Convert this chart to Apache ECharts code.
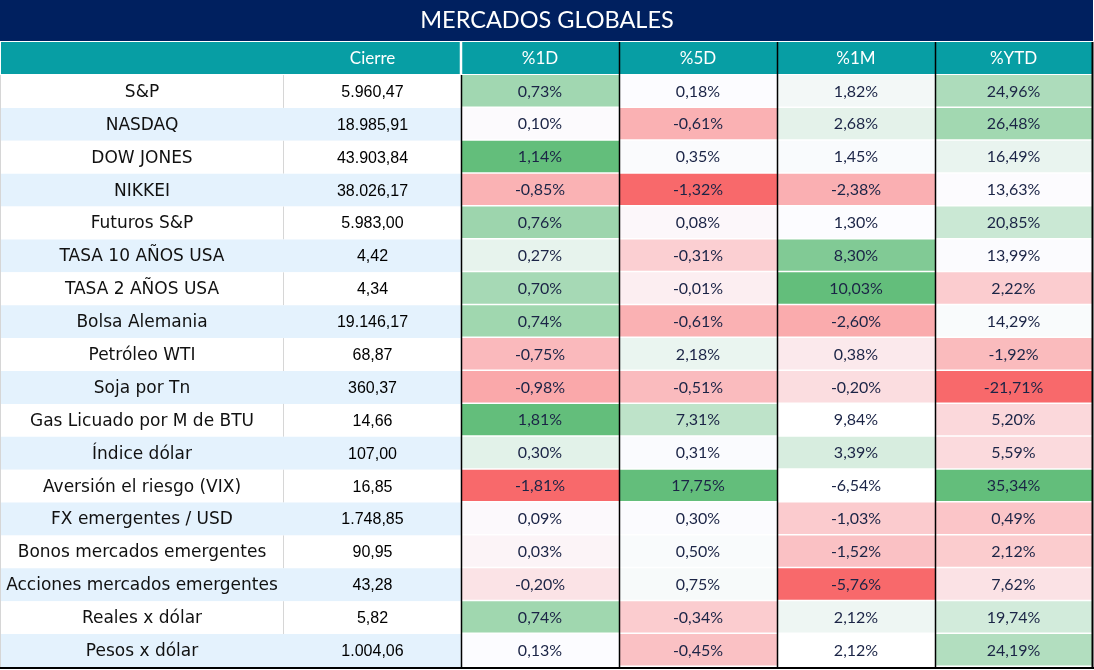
<!DOCTYPE html>
<html><head><meta charset="utf-8">
<script src="https://cdn.jsdelivr.net/npm/echarts@6/dist/echarts.min.js"></script>
<style>html,body{margin:0;padding:0;background:#fff}#c{width:1094px;height:670px}</style>
</head><body><div id="c"></div>
<script>
const names=["S&P","NASDAQ","DOW JONES","NIKKEI","Futuros S&P","TASA 10 AÑOS USA","TASA 2 AÑOS USA","Bolsa Alemania","Petróleo WTI","Soja por Tn","Gas Licuado por M de BTU","Índice dólar","Aversión el riesgo (VIX)","FX emergentes / USD","Bonos mercados emergentes","Acciones mercados emergentes","Reales x dólar","Pesos x dólar"];
const cierre=[5960.47,18985.91,43903.84,38026.17,5983.00,4.42,4.34,19146.17,68.87,360.37,14.66,107.00,16.85,1748.85,90.95,43.28,5.82,1004.06];
const pct1D=[0.73,0.10,1.14,-0.85,0.76,0.27,0.70,0.74,-0.75,-0.98,1.81,0.30,-1.81,0.09,0.03,-0.20,0.74,0.13];
const pct5D=[0.18,-0.61,0.35,-1.32,0.08,-0.31,-0.01,-0.61,2.18,-0.51,7.31,0.31,17.75,0.30,0.50,0.75,-0.34,-0.45];
const pct1M=[1.82,2.68,1.45,-2.38,1.30,8.30,10.03,-2.60,0.38,-0.20,9.84,3.39,-6.54,-1.03,-1.52,-5.76,2.12,2.12];
const pctYTD=[24.96,26.48,16.49,13.63,20.85,13.99,2.22,14.29,-1.92,-21.71,5.20,5.59,35.34,0.49,2.12,7.62,19.74,24.19];
const headers=["","Cierre","%1D","%5D","%1M","%YTD"];
const title="MERCADOS GLOBALES";
// rows outside each column's colour-scale range in the original sheet
const outOfRange={2:[10],3:[],4:[10,12,17],5:[]};
// cells with no fill at all
const noFill={2:[],3:[],4:[10,12,17],5:[]};

const pctCols=[null,null,pct1D,pct5D,pct1M,pctYTD];
const RED=[248,105,107], MID=[252,252,255], GREEN=[99,190,123];
function mix(a,b,t){t=Math.max(0,Math.min(1,t));return 'rgb('+a.map((v,k)=>Math.round(v+(b[k]-v)*t)).join(',')+')';}
function makeScale(vals,skip,blank){
  const v=vals.filter((x,i)=>!skip.includes(i)).sort((a,b)=>a-b);
  const n=v.length, mn=v[0], mx=v[n-1];
  const md=n%2?v[(n-1)/2]:(v[n/2-1]+v[n/2])/2;
  return (x,i)=>{
    if(blank.includes(i)) return '#ffffff';
    if(x<=md) return mix(RED,MID,md===mn?1:(x-mn)/(md-mn));
    return mix(MID,GREEN,mx===md?0:(x-md)/(mx-md));
  };
}
function fmtNum(x){
  const p=x.toFixed(2).split('.');
  p[0]=p[0].replace(/\B(?=(\d{3})+(?!\d))/g,'.');
  return p[0]+','+p[1];
}
function fmtPct(x){return x.toFixed(2).replace('.',',')+'%';}

const edges=[0,284,461,619,777,935,1092];
const TOP=75, BOT=667;
const grid=[],xAxis=[],yAxis=[],series=[];
for(let c=0;c<6;c++){
  grid.push({left:edges[c],top:TOP,width:edges[c+1]-edges[c],height:BOT-TOP});
  xAxis.push({gridIndex:c,type:'category',data:[headers[c]],position:'top',z:10,
    axisLine:{show:false},axisTick:{show:false},splitLine:{show:false},
    axisLabel:{color:'#ffffff',fontSize:17,fontFamily:'Lato',margin:8}});
  yAxis.push({gridIndex:c,type:'category',data:names,inverse:true,show:false});
}
function cell(api){
  const i=api.value(1), ctr=api.coord([0,i]), s=api.size([1,1]);
  return {i,cx:ctr[0],cy:ctr[1],x:ctr[0]-s[0]/2,y:ctr[1]-s[1]/2,w:s[0],h:s[1]};
}
// name column
series.push({type:'custom',xAxisIndex:0,yAxisIndex:0,data:names.map((n,i)=>[0,i]),
  renderItem:(p,api)=>{
    const c=cell(api);
    const ch=[{type:'rect',shape:{x:c.x,y:c.y,width:c.w,height:c.h},style:{fill:c.i%2?'#E4F2FD':'#ffffff'}},
      {type:'text',style:{text:names[c.i],x:c.cx,y:c.cy+1,align:'center',verticalAlign:'middle',fill:'#111111',font:'17px "DejaVu Sans"'}}];
    if(c.i%2===0) ch.push({type:'line',shape:{x1:c.x+c.w-0.5,y1:c.y,x2:c.x+c.w-0.5,y2:c.y+c.h},style:{stroke:'#d6d6d6',lineWidth:1}});
    return {type:'group',children:ch};
  }});
// cierre column
series.push({type:'custom',xAxisIndex:1,yAxisIndex:1,data:cierre.map((v,i)=>[0,i,v]),
  renderItem:(p,api)=>{
    const c=cell(api);
    return {type:'group',children:[
      {type:'rect',shape:{x:c.x,y:c.y,width:c.w,height:c.h},style:{fill:c.i%2?'#E4F2FD':'#ffffff'}},
      {type:'text',style:{text:fmtNum(api.value(2)),x:c.cx,y:c.cy+1,align:'center',verticalAlign:'middle',fill:'#000000',font:'16px "Liberation Sans"'}}]};
  }});
// percentage columns
for(let k=2;k<6;k++){
  const vals=pctCols[k], sc=makeScale(vals,outOfRange[k],noFill[k]);
  series.push({type:'custom',xAxisIndex:k,yAxisIndex:k,data:vals.map((v,i)=>[0,i,v]),
    renderItem:(p,api)=>{
      const c=cell(api), v=api.value(2);
      return {type:'group',children:[
        {type:'rect',shape:{x:c.x,y:c.y,width:c.w,height:c.h-1.5},style:{fill:sc(v,c.i)}},
        {type:'text',style:{text:fmtPct(v),x:c.cx,y:c.cy,align:'center',verticalAlign:'middle',fill:'#1B2446',font:'16px Lato'}}]};
    }});
}
function vline(x,y1,y2,col,w){return {type:'line',z:100,shape:{x1:x,y1:y1,x2:x,y2:y2},style:{stroke:col,lineWidth:w}};}
const graphic=[
  {type:'rect',z:-5,shape:{x:0,y:0,width:1093,height:41},style:{fill:'#00205F'}},
  {type:'rect',z:-5,shape:{x:1,y:42,width:1092,height:32},style:{fill:'#079EA4'}},
  vline(461,42,74,'#ffffff',2.5),
  vline(461.5,75,BOT,'#000000',1.5),
  vline(619.5,42,BOT,'#000000',1.5),
  vline(777.5,42,BOT,'#000000',1.5),
  vline(935.5,42,BOT,'#000000',1.5),
  vline(1092.5,42,BOT+2,'#000000',2),
  vline(0.5,75,BOT,'#d6d6d6',1),
  {type:'line',z:100,shape:{x1:0,y1:BOT+1,x2:1094,y2:BOT+1},style:{stroke:'#000000',lineWidth:2}}
];
const chart=echarts.init(document.getElementById('c'),null,{renderer:'canvas'});
chart.setOption({
  animation:false,
  title:{text:title,left:'center',top:3,textStyle:{color:'#ffffff',fontSize:23.5,fontWeight:'normal',fontFamily:'Lato'}},
  grid,xAxis,yAxis,series,graphic
});
</script></body></html>
